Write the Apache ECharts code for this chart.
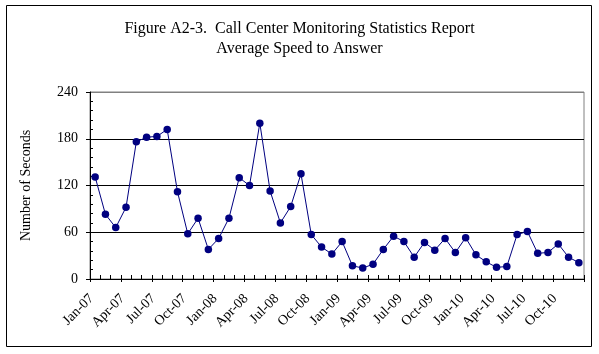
<!DOCTYPE html>
<html>
<head>
<meta charset="utf-8">
<script src="https://cdn.jsdelivr.net/npm/echarts@6/dist/echarts.min.js"></script>
<style>
  html, body { margin: 0; padding: 0; background: #fff; }
  #chart { width: 599px; height: 354px; }
</style>
</head>
<body>
<div id="chart"></div>
<script>
var months = [
  'Jan-07', 'Feb-07', 'Mar-07', 'Apr-07', 'May-07', 'Jun-07', 'Jul-07', 'Aug-07', 'Sep-07', 'Oct-07', 'Nov-07', 'Dec-07',
  'Jan-08', 'Feb-08', 'Mar-08', 'Apr-08', 'May-08', 'Jun-08', 'Jul-08', 'Aug-08', 'Sep-08', 'Oct-08', 'Nov-08', 'Dec-08',
  'Jan-09', 'Feb-09', 'Mar-09', 'Apr-09', 'May-09', 'Jun-09', 'Jul-09', 'Aug-09', 'Sep-09', 'Oct-09', 'Nov-09', 'Dec-09',
  'Jan-10', 'Feb-10', 'Mar-10', 'Apr-10', 'May-10', 'Jun-10', 'Jul-10', 'Aug-10', 'Sep-10', 'Oct-10', 'Nov-10', 'Dec-10'
]
var seconds = [
  131, 83, 66, 92, 176, 182, 183, 192, 112, 58, 78, 38,
  52, 78, 130, 120, 200, 113, 72, 93, 135, 57, 41, 32,
  48, 17, 14, 19, 38, 55, 48, 28, 47, 37, 52, 34,
  53, 31, 22, 15, 16, 57, 61, 33, 34, 45, 28, 21
]
var yTicks = { min: 0, max: 240, step: 60 }

var font = 'Liberation Serif, Times New Roman, serif'
var chart = echarts.init(document.getElementById('chart'))

chart.setOption({
  backgroundColor: '#fff',
  animation: false,
  title: {
    text: 'Figure A2-3.  Call Center Monitoring Statistics Report\nAverage Speed to Answer',
    left: 'center',
    top: 14,
    textStyle: {
      fontFamily: font,
      fontWeight: 'normal',
      fontSize: 16,
      lineHeight: 20,
      color: '#000'
    }
  },
  graphic: [{
    type: 'rect',
    shape: { x: 6.5, y: 5.5, width: 585, height: 341 },
    style: { fill: 'none', stroke: '#000', lineWidth: 1 },
    silent: true
  }],
  grid: {
    left: 90,
    right: 15,
    top: 92,
    bottom: 75,
    show: true,
    borderColor: '#808080',
    borderWidth: 1
  },
  xAxis: [
    {
      type: 'category',
      data: months,
      boundaryGap: true,
      axisLine: { lineStyle: { color: '#000', width: 1 } },
      axisTick: { show: true, interval: 0, inside: true, length: 4, lineStyle: { color: '#000' } },
      axisLabel: {
        interval: 2,
        rotate: 45,
        margin: 14,
        padding: [0, 5, 0, 0],
        fontFamily: font,
        fontSize: 14,
        color: '#000'
      }
    },
    {
      // longer ticks every quarter, below the axis
      type: 'category',
      data: months,
      position: 'bottom',
      boundaryGap: true,
      axisLine: { show: false },
      axisTick: { show: true, interval: 2, length: 3, lineStyle: { color: '#000' } },
      axisLabel: { show: false }
    }
  ],
  yAxis: [
    {
      type: 'value',
      min: yTicks.min,
      max: yTicks.max,
      interval: yTicks.step,
      name: 'Number of Seconds',
      nameLocation: 'middle',
      nameGap: 57,
      nameTextStyle: { fontFamily: font, fontSize: 14, color: '#000' },
      axisLine: { show: true, lineStyle: { color: '#000', width: 1 } },
      axisTick: { show: true, length: 4, lineStyle: { color: '#000' } },
      axisLabel: { fontFamily: font, fontSize: 14, color: '#000', margin: 12 },
      splitLine: {
        show: true,
        lineStyle: { color: ['#000', '#000', '#000', '#000', '#808080'], width: 1 }
      }
    },
    {
      // only the small inner ticks
      type: 'value',
      position: 'left',
      min: yTicks.min,
      max: yTicks.max,
      interval: yTicks.step,
      axisLine: { show: false },
      axisTick: { show: false, inside: true },
      axisLabel: { show: false },
      splitLine: { show: false },
      minorTick: { show: true, splitNumber: 5, length: 3, lineStyle: { color: '#000' } }
    }
  ],
  series: [{
    type: 'line',
    data: seconds,
    xAxisIndex: 0,
    yAxisIndex: 0,
    symbol: 'circle',
    symbolSize: 7.5,
    showAllSymbol: true,
    lineStyle: { color: '#000080', width: 1 },
    itemStyle: { color: '#000080' }
  }]
})
</script>
</body>
</html>
